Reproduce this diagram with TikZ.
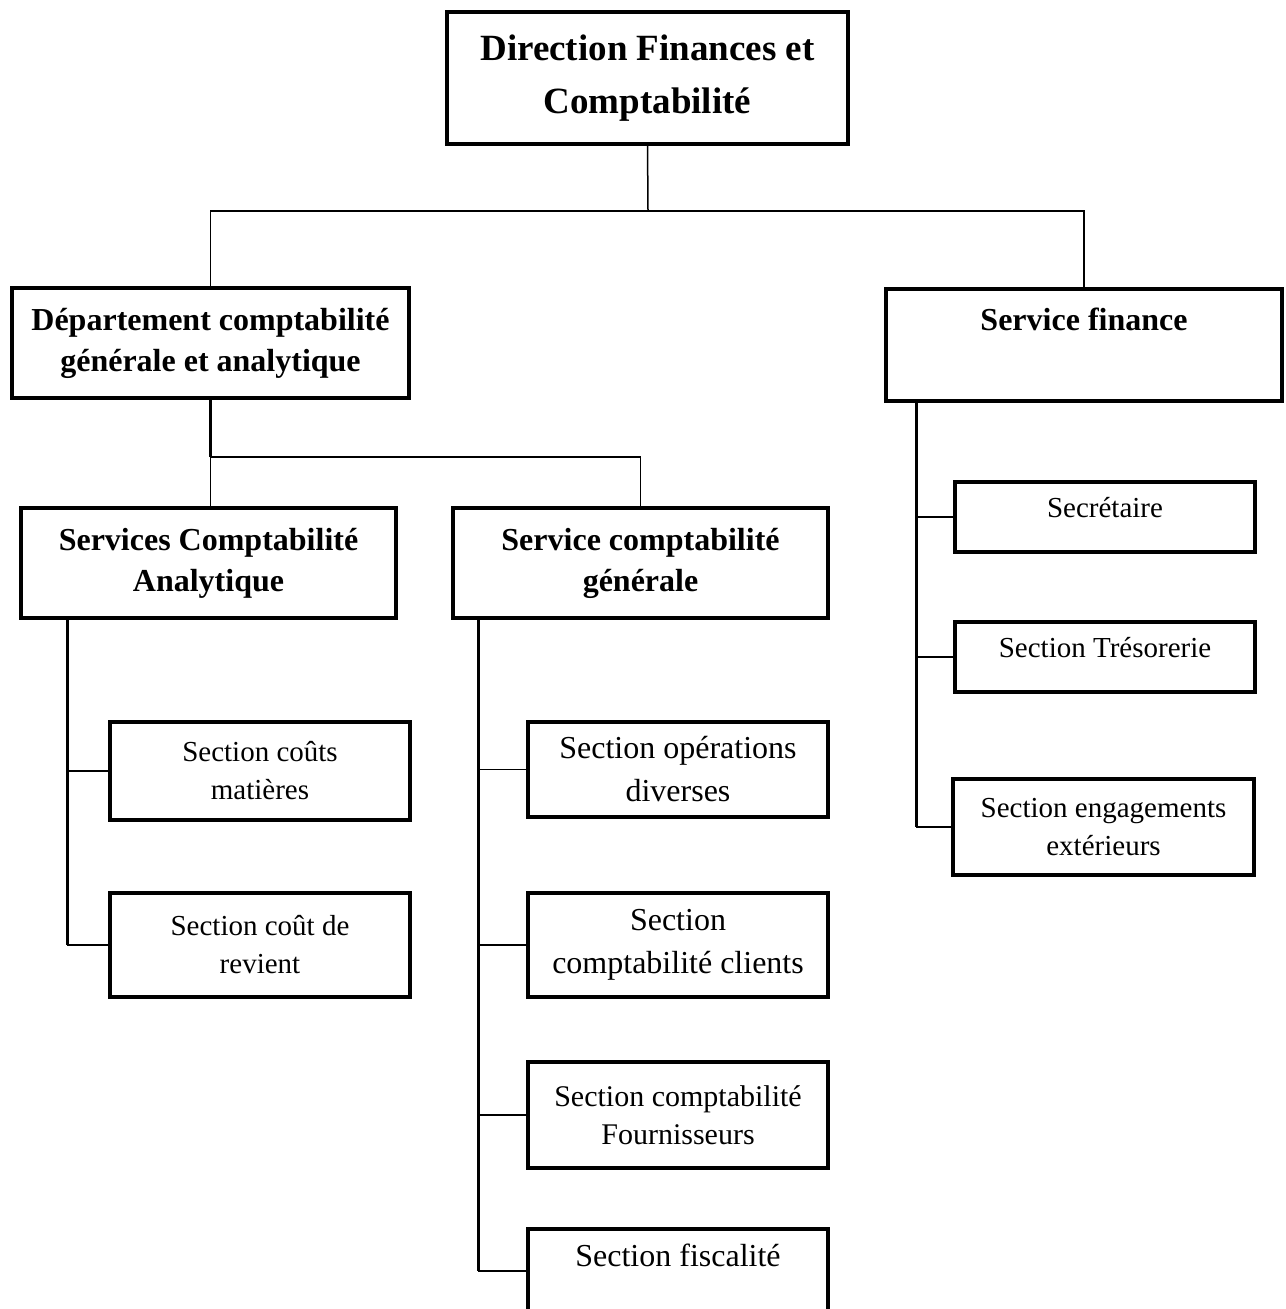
\documentclass[tikz,border=0pt]{standalone}
\usepackage{fontspec}
\setmainfont{Liberation Serif}
\begin{document}
\begin{tikzpicture}[x=0.5pt,y=-0.5pt,
  box/.style={draw, line width=1.75pt, rectangle, align=center, inner sep=2pt, outer sep=0pt},
  tt/.style={box, font=\fontsize{18.5}{26.5}\selectfont\bfseries},
  hd/.style={box, font=\fontsize{16}{20.5}\selectfont\bfseries},
  sm/.style={box, font=\fontsize{14.5}{19}\selectfont},
  smb/.style={box, font=\fontsize{16}{21.5}\selectfont},
  thinline/.style={line width=0.75pt},
  thickline/.style={line width=1.5pt}]
\useasboundingbox (0,0) rectangle (1285,1309);
\clip (0,0) rectangle (1285,1309);

% boxes
\node[tt, minimum width=200.5pt, minimum height=66pt] (top) at (647.5,78) {Direction Finances et\\Comptabilité};
\node[hd, minimum width=198.5pt, minimum height=55pt] (dept) at (210.5,343) {Département comptabilité\\générale et analytique};
\node[hd, minimum width=198pt, minimum height=56pt, text depth=26pt] (fin) at (1084,345) {Service finance};
\node[hd, minimum width=187.5pt, minimum height=55pt] (sca) at (208.5,563) {Services Comptabilité\\Analytique};
\node[hd, minimum width=187.5pt, minimum height=55pt] (scg) at (640.5,563) {Service comptabilité\\générale};

\node[sm, minimum width=150pt, minimum height=49pt] (cm) at (260,771) {Section coûts\\matières};
\node[sm, minimum width=150pt, minimum height=52pt] (cr) at (260,945) {Section coût de\\revient};

\node[smb, minimum width=150pt, minimum height=47.5pt] (od) at (678,769.5) {Section opérations\\diverses};
\node[smb, minimum width=150pt, minimum height=52pt] (cc) at (678,945) {Section\\comptabilité clients};
\node[sm, font=\fontsize{15}{19}\selectfont, minimum width=150pt, minimum height=53pt] (cf) at (678,1115) {Section comptabilité\\Fournisseurs};
\node[smb, minimum width=150pt, minimum height=42pt, text depth=16pt] (fi) at (678,1271) {Section fiscalité};

\node[sm, minimum width=150pt, minimum height=35pt, text depth=10pt] (sec) at (1105,517) {Secrétaire};
\node[sm, minimum width=150pt, minimum height=35pt, text depth=10pt] (tre) at (1105,657) {Section Trésorerie};
\node[sm, minimum width=150.5pt, minimum height=48pt] (eng) at (1103.5,827) {Section engagements\\extérieurs};

% top level connectors
\coordinate (j1) at (648,211);
\draw[thinline] (top.south) -- (j1);
\draw[thinline] (dept.north) -- (dept.north |- j1) -- (fin.north |- j1) -- (fin.north);

% department branch
\coordinate (j2) at (210.5,457);
\draw[thickline] (dept.south) -- (j2);
\draw[thinline] (j2) -- (j2 |- sca.north);
\draw[thinline] (j2) -| (scg.north);

% analytic branch
\coordinate (sa) at (67,618);
\draw[thickline] (sa) -- (sa |- cr.west);
\draw[thinline] (sa |- cm.west) -- (cm.west);
\draw[thinline] (sa |- cr.west) -- (cr.west);

% general branch
\coordinate (sb) at (478,618);
\draw[thickline] (sb) -- (sb |- fi.west);
\draw[thinline] (sb |- od.west) -- (od.west);
\draw[thinline] (sb |- cc.west) -- (cc.west);
\draw[thinline] (sb |- cf.west) -- (cf.west);
\draw[thinline] (sb |- fi.west) -- (fi.west);

% finance branch
\coordinate (sf) at (916,401);
\draw[thickline] (sf) -- (sf |- eng.west);
\draw[thinline] (sf |- sec.west) -- (sec.west);
\draw[thinline] (sf |- tre.west) -- (tre.west);
\draw[thinline] (sf |- eng.west) -- (eng.west);
\end{tikzpicture}
\end{document}
